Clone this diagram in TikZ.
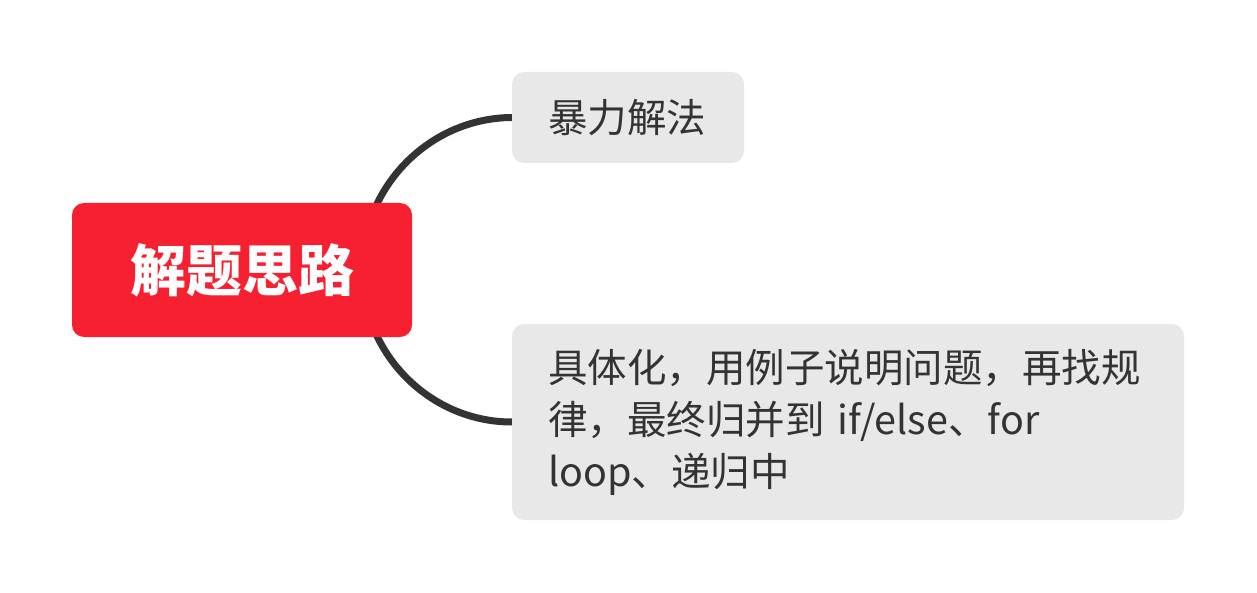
\documentclass[tikz,border=0pt]{standalone}
\usepackage{fontspec}
\setmainfont{Noto Sans CJK SC}
\newfontfamily\cjk{Noto Sans CJK SC}
\usetikzlibrary{backgrounds}
\definecolor{rootred}{HTML}{F72030}
\definecolor{childgray}{HTML}{E8E8E8}
\definecolor{ink}{HTML}{333333}
\tikzset{
  rootbox/.style={fill=rootred, rounded corners=12pt, minimum width=340pt, minimum height=134pt, inner sep=0pt, text=white, font=\cjk\bfseries\fontsize{56}{62}\selectfont},
  childbox/.style={fill=childgray, rounded corners=12pt, inner sep=0pt, text=ink, font=\cjk\fontsize{39.5}{52}\selectfont},
  branch/.style={draw=ink, line width=7pt, line cap=butt}
}
\begin{document}
\begin{tikzpicture}[x=1pt,y=-1pt]
\useasboundingbox (0,0) rectangle (1257,593);
\node[rootbox] (root) at (242,270) {解题思路};
\node[childbox, minimum width=232pt, minimum height=91pt, text width=160pt, align=left] (a) at (628,117.5) {暴力解法};
\node[childbox, minimum width=672pt, minimum height=196pt, text width=600pt, align=left] (b) at (848,422) {具体化，用例子说明问题，再找规\\律，最终归并到 if/else、for\\loop、递归中};
\coordinate (ra) at (362,270);
\begin{scope}[on background layer]
\draw[branch] (ra) .. controls (362,186) and (430,118) .. (a.west);
\draw[branch] (ra) .. controls (362,354) and (430,422) .. (b.west);
\end{scope}
\end{tikzpicture}
\end{document}
